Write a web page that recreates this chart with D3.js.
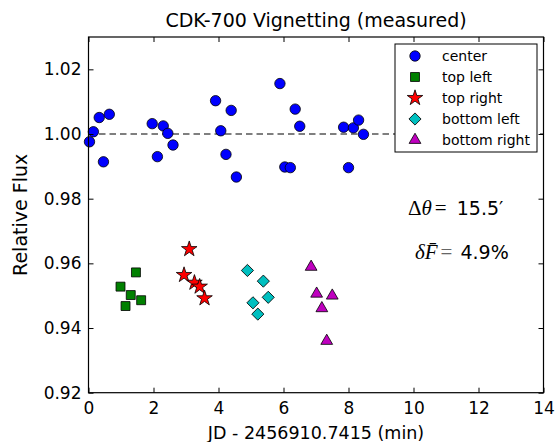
<!DOCTYPE html>
<html><head><meta charset="utf-8">
<script src="https://cdn.jsdelivr.net/npm/d3@7"></script>
<style>body{margin:0;background:#fff}svg{display:block}text{font-family:"DejaVu Sans",sans-serif}</style>
</head><body>
<svg id="c" width="556" height="442"></svg>
<script>
const centerX = [0.03,0.15,0.33,0.46,0.64,1.96,2.12,2.30,2.44,2.60,3.91,4.07,4.23,4.39,4.55,5.89,6.04,6.21,6.36,6.50,7.85,8.00,8.15,8.31,8.46];
const centerY = [0.9976,1.0007,1.0051,0.9914,1.0061,1.0032,0.9930,1.0025,1.0002,0.9966,1.0103,1.0010,0.9937,1.0073,0.9867,1.0156,0.9898,0.9896,1.0077,1.0024,1.0021,0.9896,1.0019,1.0043,0.9999];
const topLeftX = [0.985,1.14,1.30,1.46,1.62];
const topLeftY = [0.9528,0.9468,0.9502,0.9572,0.9486];
const topRightX = [3.10,2.94,3.26,3.42,3.57];
const topRightY = [0.9644,0.9564,0.9540,0.9528,0.9492];
const bottomLeftX = [4.89,5.06,5.21,5.38,5.53];
const bottomLeftY = [0.9578,0.9478,0.9443,0.9545,0.9495];
const bottomRightX = [6.85,7.02,7.18,7.33,7.50];
const bottomRightY = [0.9589,0.9506,0.9461,0.9360,0.9500];
const xTicks = [0,2,4,6,8,10,12,14];
const yTicks = [0.92,0.94,0.96,0.98,1.00,1.02];
const seriesNames = ["center","top left","top right","bottom left","bottom right"];
const seriesColors = ["#0000ff","#008000","#ff0000","#00bfbf","#bf00bf"];

const series = [
  {name:seriesNames[0], xs:centerX, ys:centerY, color:seriesColors[0], sym:d3.symbolCircle, size:85, rot:0},
  {name:seriesNames[1], xs:topLeftX, ys:topLeftY, color:seriesColors[1], sym:d3.symbolSquare, size:80, rot:0},
  {name:seriesNames[2], xs:topRightX, ys:topRightY, color:seriesColors[2], sym:d3.symbolStar, size:75, rot:0},
  {name:seriesNames[3], xs:bottomLeftX, ys:bottomLeftY, color:seriesColors[3], sym:d3.symbolSquare, size:74, rot:45},
  {name:seriesNames[4], xs:bottomRightX, ys:bottomRightY, color:seriesColors[4], sym:d3.symbolTriangle, size:60, rot:0}
];

const svg = d3.select("#c");
const L=88.5, R=543.5, T=37, B=392.7;
const x = d3.scaleLinear().domain([0,14]).range([L,R]);
const y = d3.scaleLinear().domain([0.92,1.03]).range([B,T]);
const tickFont = "17px";

// dashed reference line
svg.append("line").attr("x1",x(0)).attr("x2",x(14)).attr("y1",y(1.0)).attr("y2",y(1.0))
  .attr("stroke","#000").attr("stroke-width",1.2).attr("stroke-dasharray","6.5,4");

// markers
series.forEach(s=>{
  const g = svg.append("g");
  s.xs.forEach((xv,i)=>{
    g.append("path").attr("d", d3.symbol().type(s.sym).size(s.size)())
      .attr("transform",`translate(${x(xv)},${y(s.ys[i])}) rotate(${s.rot})`)
      .attr("fill",s.color).attr("stroke","#000").attr("stroke-width",0.8);
  });
});

// frame
svg.append("rect").attr("x",L).attr("y",T).attr("width",R-L).attr("height",B-T)
  .attr("fill","none").attr("stroke","#000").attr("stroke-width",1.2);

// axes with inside ticks
const axB = d3.axisBottom(x).tickValues(xTicks).tickSizeInner(-5).tickSizeOuter(0).tickPadding(9).tickFormat(d3.format("d"));
const gB = svg.append("g").attr("transform",`translate(0,${B})`).call(axB);
const axT = d3.axisTop(x).tickValues(xTicks).tickSizeInner(-5).tickSizeOuter(0).tickFormat("");
const gT = svg.append("g").attr("transform",`translate(0,${T})`).call(axT);
const axL = d3.axisLeft(y).tickValues(yTicks).tickSizeInner(-5).tickSizeOuter(0).tickPadding(7).tickFormat(d3.format(".2f"));
const gL = svg.append("g").attr("transform",`translate(${L},0)`).call(axL);
const axR = d3.axisRight(y).tickValues(yTicks).tickSizeInner(-5).tickSizeOuter(0).tickFormat("");
const gR = svg.append("g").attr("transform",`translate(${R},0)`).call(axR);
[gB,gT,gL,gR].forEach(g=>{
  g.select(".domain").remove();
  g.selectAll("line").attr("stroke","#000").attr("stroke-width",1);
  g.selectAll("text").attr("font-family","DejaVu Sans").attr("font-size",tickFont).attr("fill","#000");
});

// title and labels
svg.append("text").attr("x",(L+R)/2).attr("y",27).attr("text-anchor","middle")
  .attr("font-size","19px").text("CDK-700 Vignetting (measured)");
svg.append("text").attr("x",(L+R)/2).attr("y",439).attr("text-anchor","middle")
  .attr("font-size","17.5px").text("JD - 2456910.7415 (min)");
svg.append("text").attr("transform",`translate(27,${(T+B)/2}) rotate(-90)`).attr("text-anchor","middle")
  .attr("font-size","19px").text("Relative Flux");

// legend
const lg = svg.append("g");
lg.append("rect").attr("x",395).attr("y",44).attr("width",142).attr("height",108)
  .attr("fill","#fff").attr("stroke","#000").attr("stroke-width",1);
series.forEach((s,i)=>{
  const cy = 56 + i*21;
  lg.append("path").attr("d", d3.symbol().type(s.sym).size(s.size)())
    .attr("transform",`translate(415,${cy}) rotate(${s.rot})`)
    .attr("fill",s.color).attr("stroke","#000").attr("stroke-width",0.8);
  lg.append("text").attr("x",442).attr("y",cy+5).attr("font-size","14px").text(s.name);
});

// annotations
const a1 = svg.append("text").attr("x",408).attr("y",215).attr("font-size","19px");
a1.append("tspan").attr("font-family","Liberation Serif").attr("font-size","21px").text("Δ");
a1.append("tspan").attr("font-family","Liberation Serif").attr("font-size","21px").attr("font-style","italic").text("θ");
a1.append("tspan").attr("font-family","Liberation Serif").attr("font-size","21px").attr("dx",3).text("=");
a1.append("tspan").attr("font-family","DejaVu Sans").attr("dx",4).text(" 15.5′");
const a2 = svg.append("text").attr("x",415).attr("y",259).attr("font-size","19px");
a2.append("tspan").attr("font-family","Liberation Serif").attr("font-size","21px").attr("font-style","italic").text("δ");
a2.append("tspan").attr("font-family","Liberation Serif").attr("font-size","21px").attr("font-style","italic").text("F\u0304");
a2.append("tspan").attr("font-family","Liberation Serif").attr("font-size","21px").attr("dx",3).attr("fill","#666").text("=");
a2.append("tspan").attr("font-family","DejaVu Sans").attr("dx",2).text(" 4.9%");
</script>
</body></html>
